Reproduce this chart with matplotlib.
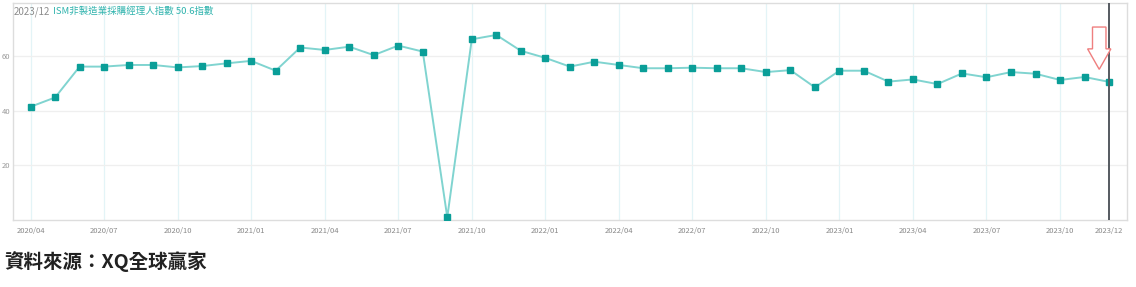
import pandas as pd
import matplotlib.pyplot as plt
from matplotlib.patches import FancyArrow

plt.rcParams['font.family'] = ['Noto Sans CJK TC', 'DejaVu Sans']

# ISM non-manufacturing PMI, monthly 2020/04 - 2023/12
months = pd.date_range("2020-04-01", "2023-12-01", freq="MS").strftime("%Y/%m").tolist()
pmi = [41.5, 44.9, 56.2, 56.2, 56.8, 56.8, 55.9, 56.4, 57.4, 58.3,
       54.7, 63.2, 62.3, 63.5, 60.4, 63.9, 61.7, 1.0, 66.2, 67.8,
       62.0, 59.4, 56.2, 58.0, 56.8, 55.6, 55.6, 55.8, 55.6, 55.6,
       54.2, 54.9, 48.6, 54.7, 54.7, 50.7, 51.5, 49.8, 53.7, 52.3,
       54.2, 53.6, 51.3, 52.4, 50.6]
tick_labels = months[::3] + [months[-1]]
y_ticks = [20, 40, 60]

title_date = "2023/12"
title_name = "ISM非製造業採購經理人指數 50.6指數"
source = "資料來源：XQ全球贏家"

x = list(range(len(pmi)))
tick_pos = x[::3] + [x[-1]]

fig = plt.figure(figsize=(11.36, 2.87), dpi=100)
ax = fig.add_axes([0.0112, 0.2334, 0.9806, 0.7561])

ax.plot(x, pmi, color="#80d4d0", lw=1.4, marker="s", ms=4.6,
        mfc="#0a9e98", mec="#0a9e98", zorder=3)

ax.set_xlim(-0.73, 44.72)
ax.set_ylim(0, 79.5)

ax.set_xticks(tick_pos)
ax.set_xticklabels(tick_labels)
ax.set_yticks(y_ticks)
ax.tick_params(axis="x", length=0, pad=5, labelsize=5.5, labelcolor="#8a8a8a")
ax.tick_params(axis="y", length=0, pad=2, labelsize=5.5, labelcolor="#9a9a9a")

for p in tick_pos[:-1]:
    ax.axvline(p, color="#e3f4f7", lw=0.9, zorder=0)
for v in y_ticks:
    ax.axhline(v, color="#efefef", lw=0.9, zorder=0)

for s in ax.spines.values():
    s.set_color("#dddddd")
    s.set_linewidth(1.0)

# current month marker line and arrow
ax.axvline(x[-1], color="#555a60", lw=1.4, zorder=4)
ax.add_patch(FancyArrow(43.6, 70.7, 0, -15.5, width=0.55, head_width=0.95,
                        head_length=7.5, length_includes_head=True,
                        fc="white", ec="#ef7f7f", lw=1.0, zorder=5))

ax.text(0.0005, 0.962, title_date, transform=ax.transAxes, fontsize=7,
        color="#8c8c8c", va="center", ha="left")
ax.text(0.0365, 0.962, title_name, transform=ax.transAxes, fontsize=6.8,
        color="#2fb3ad", va="center", ha="left")

fig.text(0.004, 0.087, source, fontsize=14, fontweight="bold",
         color="#222222", va="center", ha="left")

fig.savefig("out.png", dpi=100)
plt.close(fig)
